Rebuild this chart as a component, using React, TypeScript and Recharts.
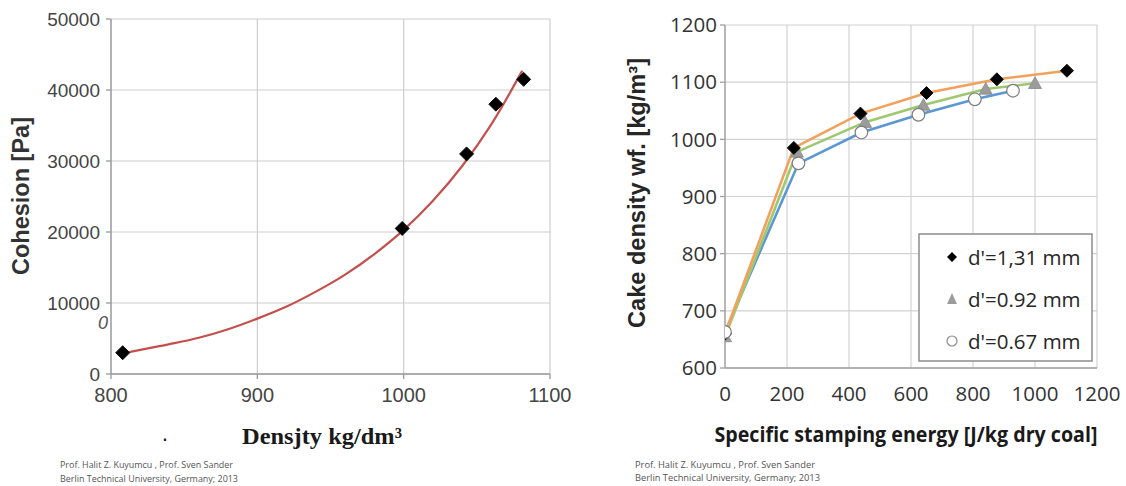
import React from 'react';
import { ComposedChart, Line, Scatter, XAxis, YAxis, CartesianGrid, Legend } from 'recharts';

// ---------- Left chart: cohesion vs density ----------
const densityPoints = [808, 999, 1043, 1063, 1082];
const cohesionPoints = [3000, 20500, 31000, 38000, 41500];
const fitDensity = [808, 820, 840, 860, 880, 900, 920, 940, 960, 980, 1000, 1020, 1040, 1060, 1081];
const fitCohesion = [2900, 3400, 4200, 5100, 6300, 7800, 9500, 11600, 14000, 16900, 20300, 24400, 29300, 35200, 42700];
const densityTicks = [800, 900, 1000, 1100];
const cohesionTicks = [0, 10000, 20000, 30000, 40000, 50000];

// ---------- Right chart: cake density vs stamping energy ----------
const seriesNames = ["d'=1,31 mm", "d'=0.92 mm", "d'=0.67 mm"];
const energy131 = [0, 222, 437, 650, 877, 1103];
const density131 = [660, 985, 1045, 1081, 1105, 1120];
const energy092 = [0, 232, 452, 640, 841, 1000];
const density092 = [655, 978, 1030, 1060, 1088, 1098];
const energy067 = [0, 237, 440, 624, 806, 929];
const density067 = [663, 958, 1012, 1043, 1070, 1085];
const energyTicks = [0, 200, 400, 600, 800, 1000, 1200];
const cakeTicks = [600, 700, 800, 900, 1000, 1100, 1200];

const zip = (xs: number[], ys: number[]) => xs.map((x, i) => ({ x, y: ys[i] }));

const leftPoints = zip(densityPoints, cohesionPoints);
const leftFit = zip(fitDensity, fitCohesion);
const s131 = zip(energy131, density131);
const s092 = zip(energy092, density092);
const s067 = zip(energy067, density067);

const Diamond = (r: number) => (props: any) => {
  const { cx, cy } = props;
  if (cx == null || cy == null) return null;
  return (
    <polygon
      points={`${cx},${cy - r} ${cx + r},${cy} ${cx},${cy + r} ${cx - r},${cy}`}
      fill="#000"
      stroke="#111"
      strokeWidth={1}
    />
  );
};

const Triangle = (props: any) => {
  const { cx, cy } = props;
  if (cx == null || cy == null) return null;
  const r = 6.5;
  return (
    <polygon
      points={`${cx},${cy - r} ${cx + r},${cy + r * 0.8} ${cx - r},${cy + r * 0.8}`}
      fill="#9c9c9c"
      stroke="#8a8a8a"
      strokeWidth={0.8}
    />
  );
};

const Circle = (props: any) => {
  const { cx, cy } = props;
  if (cx == null || cy == null) return null;
  return <circle cx={cx} cy={cy} r={6.3} fill="#fff" stroke="#7d7d7d" strokeWidth={1.2} />;
};

const LegendBox = () => (
  <svg width={176} height={130} style={{ display: 'block' }}>
    <rect x={1} y={1} width={173} height={127} fill="#fff" stroke="#8c8c8c" strokeWidth={1.5} />
    <polygon points="34,19 39,24 34,29 29,24" fill="#000" />
    <text x={50} y={24} dominantBaseline="central" fontFamily="Open Sans" fontSize={20.5} fill="#262626">
      {seriesNames[0]}
    </text>
    <polygon points="34,60 39,71 29,71" fill="#9c9c9c" />
    <text x={50} y={66} dominantBaseline="central" fontFamily="Open Sans" fontSize={20.5} fill="#262626">
      {seriesNames[1]}
    </text>
    <circle cx={34} cy={108} r={5} fill="#fff" stroke="#8a8a8a" strokeWidth={1.2} />
    <text x={50} y={108} dominantBaseline="central" fontFamily="Open Sans" fontSize={20.5} fill="#262626">
      {seriesNames[2]}
    </text>
  </svg>
);

export default function App() {
  return (
    <div style={{ position: 'absolute', left: 0, top: 0, width: 1126, height: 486, background: '#fff', overflow: 'hidden' }}>
      <div style={{ position: 'absolute', left: 0, top: 0 }}>
        <ComposedChart width={580} height={486} margin={{ top: 19, right: 30, bottom: 82, left: 0 }}>
          <CartesianGrid stroke="#cdcdcd" strokeWidth={1.2} />
          <XAxis
            type="number"
            dataKey="x"
            domain={[800, 1100]}
            ticks={densityTicks}
            allowDataOverflow
            height={30}
            tickSize={5}
            tickMargin={9}
            stroke="#9a9a9a"
            strokeWidth={1.3}
            tick={{ fill: '#454545', fontSize: 20, fontFamily: 'Liberation Sans' }}
          />
          <YAxis
            type="number"
            dataKey="y"
            domain={[0, 50000]}
            ticks={cohesionTicks}
            allowDataOverflow
            width={111}
            tickSize={5}
            tickMargin={6}
            stroke="#9a9a9a"
            strokeWidth={1.3}
            tick={{ fill: '#454545', fontSize: 19, fontFamily: 'Liberation Sans' }}
          />
          <Line
            data={leftFit}
            dataKey="y"
            type="monotone"
            stroke="#c4504e"
            strokeWidth={2.2}
            dot={false}
            activeDot={false}
            isAnimationActive={false}
          />
          <Scatter data={leftPoints} dataKey="y" fill="#000" shape={Diamond(7)} isAnimationActive={false} />
        </ComposedChart>
      </div>

      <div style={{ position: 'absolute', left: 580, top: 0 }}>
        <ComposedChart width={546} height={486} margin={{ top: 25, right: 29, bottom: 88, left: 0 }}>
          <CartesianGrid stroke="#d2d2d2" strokeWidth={1.2} />
          <XAxis
            type="number"
            dataKey="x"
            domain={[0, 1200]}
            ticks={energyTicks}
            allowDataOverflow
            height={30}
            tickSize={0}
            tickMargin={18}
            stroke="#a0a0a0"
            strokeWidth={1.3}
            tick={{ fill: '#333', fontSize: 20.5, fontFamily: 'Open Sans' }}
          />
          <YAxis
            type="number"
            dataKey="y"
            domain={[600, 1200]}
            ticks={cakeTicks}
            allowDataOverflow
            width={145}
            tickSize={5}
            tickMargin={3}
            stroke="#a0a0a0"
            strokeWidth={1.3}
            tick={{ fill: '#333', fontSize: 20.5, fontFamily: 'Open Sans' }}
          />
          <Line data={s067} dataKey="y" name={seriesNames[2]} type="linear" stroke="#5b97d3" strokeWidth={2.6} dot={false} activeDot={false} isAnimationActive={false} legendType="none" />
          <Line data={s092} dataKey="y" name={seriesNames[1]} type="linear" stroke="#9ec86f" strokeWidth={2.6} dot={false} activeDot={false} isAnimationActive={false} legendType="none" />
          <Line data={s131} dataKey="y" name={seriesNames[0]} type="linear" stroke="#f2a15c" strokeWidth={2.6} dot={false} activeDot={false} isAnimationActive={false} legendType="none" />
          <Scatter data={s092} dataKey="y" name={seriesNames[1]} shape={Triangle} isAnimationActive={false} />
          <Scatter data={s131} dataKey="y" name={seriesNames[0]} shape={Diamond(6.5)} isAnimationActive={false} />
          <Scatter data={s067} dataKey="y" name={seriesNames[2]} shape={Circle} isAnimationActive={false} />
          <Legend
            layout="vertical"
            align="center"
            verticalAlign="middle"
            content={() => <LegendBox />}
            wrapperStyle={{ position: 'absolute', left: 338, top: 233, width: 176, height: 130 }}
          />
        </ComposedChart>
      </div>

      <svg width={1126} height={486} style={{ position: 'absolute', left: 0, top: 0, pointerEvents: 'none' }}>
        {/* left chart titles */}
        <text
          transform="translate(21,196) rotate(-90)"
          textAnchor="middle"
          dominantBaseline="central"
          fontFamily="Liberation Sans"
          fontWeight="bold"
          fontSize={23.5}
          fill="#333"
          textLength={158}
          lengthAdjust="spacingAndGlyphs"
        >
          Cohesion [Pa]
        </text>
        <text
          x={322}
          y={444}
          textAnchor="middle"
          fontFamily="Liberation Serif"
          fontWeight="bold"
          fontSize={23}
          fill="#1a1a1a"
          textLength={160}
          lengthAdjust="spacingAndGlyphs"
        >
          Densjty kg/dm³
        </text>
        <text x={103} y={323} textAnchor="middle" dominantBaseline="central" fontFamily="Liberation Sans" fontStyle="italic" fontSize={18} fill="#555">
          0
        </text>
        <text x={165} y={441} textAnchor="middle" fontFamily="Liberation Sans" fontWeight="bold" fontSize={16} fill="#222">
          .
        </text>
        <text x={60} y={468} fontFamily="Open Sans" fontSize={9.5} fill="#555" textLength={173} lengthAdjust="spacingAndGlyphs">
          Prof. Halit  Z. Kuyumcu , Prof. Sven  Sander
        </text>
        <text x={60} y={482} fontFamily="Open Sans" fontSize={9.5} fill="#555" textLength={178} lengthAdjust="spacingAndGlyphs">
          Berlin  Technical University, Germany; 2013
        </text>

        {/* right chart titles */}
        <text
          transform="translate(637,193) rotate(-90)"
          textAnchor="middle"
          dominantBaseline="central"
          fontFamily="Liberation Sans"
          fontWeight="bold"
          fontSize={23}
          fill="#262626"
          textLength={270}
          lengthAdjust="spacingAndGlyphs"
        >
          Cake density wf. [kg/m³]
        </text>
        <text
          x={906}
          y={442}
          textAnchor="middle"
          fontFamily="Open Sans"
          fontWeight="bold"
          fontSize={21}
          fill="#1a1a1a"
          textLength={383}
          lengthAdjust="spacingAndGlyphs"
        >
          Specific stamping energy [J/kg dry coal]
        </text>
        <text x={635} y={468} fontFamily="Open Sans" fontSize={9.5} fill="#555" textLength={180} lengthAdjust="spacingAndGlyphs">
          Prof. Halit  Z. Kuyumcu , Prof. Sven  Sander
        </text>
        <text x={635} y={481} fontFamily="Open Sans" fontSize={9.5} fill="#555" textLength={185} lengthAdjust="spacingAndGlyphs">
          Berlin  Technical University, Germany; 2013
        </text>
      </svg>
    </div>
  );
}
